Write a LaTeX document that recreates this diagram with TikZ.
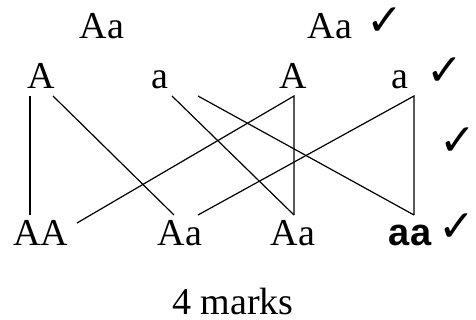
\documentclass[tikz,border=0pt]{standalone}
\usepackage{fontspec}
\setmainfont{Liberation Serif}
\newfontfamily\boldsans{Liberation Sans}
\newfontfamily\tickfont{DejaVu Sans}

\begin{document}
\begin{tikzpicture}[x=0.5pt, y=-0.5pt, font=\fontsize{19}{23}\selectfont,
    allele/.style={anchor=base, inner sep=0pt},
    tick/.style={font=\tickfont\fontsize{22}{24}\selectfont, inner sep=0pt},
    cross/.style={line width=0.6pt}]
    \useasboundingbox (0,0) rectangle (476,320);

    % parents
    \node[allele] (p1) at (102,39) {Aa};
    \node[allele] (p2) at (330,39) {Aa};

    % gametes
    \node[allele] (g1) at (41,89) {A};
    \node[allele] (g2) at (160,89) {a};
    \node[allele] (g3) at (293,89) {A};
    \node[allele] (g4) at (400,89) {a};

    % offspring
    \node[allele] (o1) at (41,245) {AA};
    \node[allele] (o2) at (180,245) {Aa};
    \node[allele] (o3) at (293,245) {Aa};
    \node[allele] (o4) at (410,245) {\boldsans\bfseries aa};

    % marks
    \node[tick] (k1) at (385,22) {✓};
    \node[tick] (k2) at (445,72) {✓};
    \node[tick] (k3) at (458,142) {✓};
    \node[tick] (k4) at (457,228) {✓};
    \node[allele] (total) at (233,314) {4 marks};

    % line ends
    \coordinate (g1l) at (30,96);
    \coordinate (g1r) at (53,96);
    \coordinate (g2l) at (172,96);
    \coordinate (g2r) at (198,96);
    \coordinate (g3b) at (294,96);
    \coordinate (g4b) at (414,96);
    \coordinate (o1l) at (30,215);
    \coordinate (o1r) at (77,223);
    \coordinate (o2l) at (174,215);
    \coordinate (o2r) at (198,215);
    \coordinate (o3t) at (294,215);
    \coordinate (o4t) at (414,215);

    \draw[cross] (g1l) -- (o1l);
    \draw[cross] (g1r) -- (o2l);
    \draw[cross] (g2l) -- (o3t);
    \draw[cross] (g2r) -- (o4t);
    \draw[cross] (o1r) -- (g3b) -- (o3t);
    \draw[cross] (o2r) -- (g4b) -- (o4t);
\end{tikzpicture}
\end{document}
